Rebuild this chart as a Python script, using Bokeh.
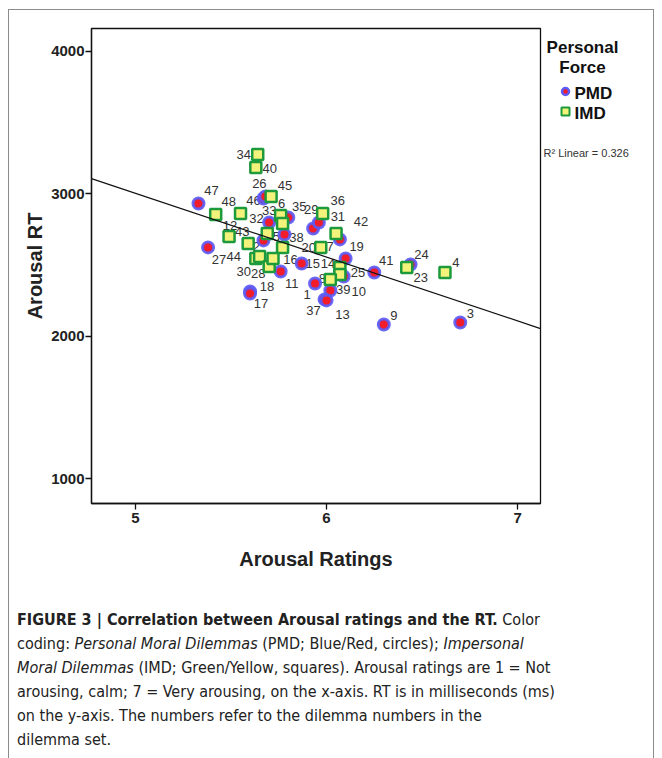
from bokeh.plotting import figure
from bokeh.models import Range1d, FixedTicker, ColumnDataSource, Div
from bokeh.layouts import column, row
from bokeh.embed import file_html
from bokeh.resources import INLINE
from bokeh.core.properties import value

# ---------------- data ----------------
pmd_ids = [47, 27, 46, 26, 33, 35, 29, 31, 42, 19, 2, 38, 11, 15, 41, 1, 39, 10, 37, 13, 18, 17, 9, 3, 24]
pmd_arousal = [5.33, 5.38, 5.67, 5.68, 5.70, 5.80, 5.93, 5.96, 6.07, 6.10, 5.67, 5.78, 5.76, 5.87, 6.25,
               5.94, 6.02, 6.09, 5.99, 6.00, 5.60, 5.60, 6.30, 6.70, 6.44]
pmd_rt = [2933, 2625, 2968, 2982, 2800, 2835, 2758, 2800, 2681, 2547, 2674, 2716, 2456, 2512, 2449,
          2372, 2323, 2421, 2260, 2253, 2316, 2302, 2084, 2098, 2505]

imd_ids = [34, 40, 45, 48, 32, 6, 22, 36, 12, 43, 5, 16, 20, 7, 44, 30, 28, 21, 14, 25, 8, 23, 4]
imd_arousal = [5.64, 5.63, 5.71, 5.42, 5.55, 5.76, 5.77, 5.98, 5.49, 5.59, 5.69, 5.77, 5.97, 6.05, 5.63,
               5.65, 5.70, 5.72, 6.07, 6.07, 6.02, 6.42, 6.62]
imd_rt = [3277, 3186, 2982, 2856, 2863, 2849, 2793, 2863, 2702, 2653, 2723, 2625, 2625, 2723, 2547,
          2561, 2491, 2547, 2484, 2435, 2400, 2484, 2449]

# labels shown next to the points (None = hidden under other marks)
pmd_labels = [str(i) for i in pmd_ids]
imd_labels = [None if i in (21, 22) else str(i) for i in imd_ids]

# fit line: RT = intercept + slope * arousal
fit_intercept = 5245.0
fit_slope = -448.0
r2_text = "R\u00b2 Linear = 0.326"

legend_title = ["Personal", "Force"]
legend_names = ["PMD", "IMD"]

x_ticks = [5, 6, 7]
y_ticks = [1000, 2000, 3000, 4000]

# ---------------- layout (pixel placement of the label texts) ----------------
pmd_off = [(13, -13), (11, 12), (-10, 2), (-6, -13), (0, -12), (11, -11), (-2, -19), (19, -6), (21, -18),
           (11, -12), (-7, 6), (12, 3), (11, 12), (11, 0), (12, -12), (-8, 11), (13, -1), (15, 15),
           (-11, 11), (16, 14), (17, -5), (11, 10), (10, -9), (10, -9), (11, -10)]
imd_off = [(-14, 0), (14, 1), (14, -11), (13, -13), (16, 5), (1, -12), (0, 0), (15, -13), (1, -11),
           (-6, -12), (9, 3), (8, 12), (-12, 0), (-6, 13), (-22, -2), (-16, 15), (-11, 7), (0, 0),
           (-12, -4), (18, -2), (-8, -1), (14, 10), (11, -10)]

X_LO, X_HI = 4.77, 7.12
Y_LO, Y_HI = 828.0, 4161.0
FR_L, FR_R, FR_T, FR_B = 91, 540, 28, 503     # plot frame in page pixels
ORG_X, ORG_Y = 9, 10                          # page position of the main canvas
TOTAL_W, FIG_H = 644, 586
MAIN_W = FR_R - ORG_X + 2
SIDE_W = TOTAL_W - MAIN_W
B_TOP = FR_T - ORG_Y
B_BOT = FIG_H - (FR_B - ORG_Y)

FONT = value("Liberation Sans")
INK = "#111111"

p = figure(width=MAIN_W, height=FIG_H, x_range=Range1d(X_LO, X_HI), y_range=Range1d(Y_LO, Y_HI),
           output_backend="svg", toolbar_location=None,
           min_border_left=FR_L - ORG_X, min_border_right=MAIN_W - (FR_R - ORG_X),
           min_border_top=B_TOP, min_border_bottom=B_BOT)
p.outline_line_color = INK
p.outline_line_width = 1.3
p.grid.visible = False
p.background_fill_color = "white"
p.border_fill_color = "white"

for ax in (p.xaxis, p.yaxis):
    ax.major_tick_in = 0
    ax.major_tick_out = 6
    ax.minor_tick_in = 0
    ax.minor_tick_out = 0
    ax.axis_line_color = INK
    ax.axis_line_width = 1.3
    ax.major_tick_line_color = INK
    ax.major_tick_line_width = 1.3
    ax.major_label_text_font = "Liberation Sans"
    ax.major_label_text_font_style = "bold"
    ax.major_label_text_font_size = "15px"
    ax.major_label_text_color = "#222222"
    ax.axis_label_text_font = "Liberation Sans"
    ax.axis_label_text_font_style = "bold"
    ax.axis_label_text_font_size = "20px"
    ax.axis_label_text_color = "#222222"

p.xaxis.ticker = FixedTicker(ticks=x_ticks)
p.yaxis.ticker = FixedTicker(ticks=y_ticks)
p.xaxis.axis_label = "Arousal Ratings"
p.yaxis.axis_label = "Arousal RT"
p.xaxis.major_label_standoff = 3
p.yaxis.major_label_standoff = 1
p.xaxis.axis_label_standoff = 22
p.yaxis.axis_label_standoff = 2

# point labels
lab_src = ColumnDataSource(dict(
    x=pmd_arousal + imd_arousal,
    y=pmd_rt + imd_rt,
    t=[l if l else "" for l in pmd_labels + imd_labels],
    dx=[o[0] for o in pmd_off + imd_off],
    dy=[o[1] for o in pmd_off + imd_off],
))
p.text(x="x", y="y", text="t", x_offset="dx", y_offset="dy", source=lab_src,
       text_align="center", text_baseline="middle", text_font=FONT,
       text_font_size="13px", text_color="#333333")

CIRC_FILL, CIRC_LINE = "#f21c2a", "#5b5bf7"
SQ_FILL, SQ_LINE = "#f3f27a", "#1c9a3c"

p.scatter(x=pmd_arousal, y=pmd_rt, marker="circle", size=11, fill_color=CIRC_FILL,
          line_color=CIRC_LINE, line_width=3, line_alpha=0.9)
p.scatter(x=imd_arousal, y=imd_rt, marker="square", size=11, fill_color=SQ_FILL,
          line_color=SQ_LINE, line_width=2.5)

# linear fit
fx = [X_LO, X_HI]
p.line(x=fx, y=[fit_intercept + fit_slope * v for v in fx], line_color=INK, line_width=1.2)

# legend panel: a small plot whose coordinates are page pixels (its frame is
# aligned with the main plot's frame by the row layout)
q = figure(width=SIDE_W, height=FIG_H, x_range=Range1d(ORG_X + MAIN_W, ORG_X + TOTAL_W),
           y_range=Range1d(FR_B, FR_T), x_axis_type=None, y_axis_type=None,
           output_backend="svg", toolbar_location=None,
           min_border_left=0, min_border_right=0, min_border_top=B_TOP, min_border_bottom=B_BOT)
q.outline_line_color = None
q.grid.visible = False
q.background_fill_color = "white"
q.border_fill_color = "white"

q.text(x=[582, 582], y=[47, 67], text=legend_title,
       text_align="center", text_baseline="middle", text_font=FONT, text_font_style="bold",
       text_font_size="17px", text_color=INK)
q.scatter(x=[565], y=[91], marker="circle", size=7, fill_color=CIRC_FILL,
          line_color=CIRC_LINE, line_width=2.5)
q.scatter(x=[565], y=[111], marker="square", size=8, fill_color=SQ_FILL,
          line_color=SQ_LINE, line_width=2)
q.text(x=[574, 574], y=[93, 113], text=legend_names,
       text_align="left", text_baseline="middle", text_font=FONT, text_font_style="bold",
       text_font_size="17px", text_color=INK)
q.text(x=[ORG_X + MAIN_W + 1], y=[152], text=[r2_text], text_align="left", text_baseline="middle",
       text_font=FONT, text_font_size="11px", text_color="#333333")

BORDER = "#8c8c8c"
top_bar = Div(text="", width=TOTAL_W + 2, height=1, margin=0, styles={"background-color": BORDER})
left_bar = Div(text="", width=1, height=FIG_H, margin=0, styles={"background-color": BORDER})
right_bar = Div(text="", width=1, height=FIG_H, margin=0, styles={"background-color": BORDER})

CAP_TOP = ORG_Y + FIG_H
CAP_H = 758 - CAP_TOP
LINE_H = 24
caption_html = (
    '<div style="box-sizing:border-box;width:' + str(TOTAL_W + 2) + 'px;height:' + str(CAP_H) + 'px;'
    'overflow:hidden;border-left:1px solid ' + BORDER + ';border-right:1px solid ' + BORDER + ';'
    'padding:' + str(620 - LINE_H // 2 - CAP_TOP) + 'px 0 0 8px;'
    'font-family:\'DejaVu Sans Condensed\',\'Liberation Sans Narrow\',sans-serif;'
    'font-size:16px;line-height:' + str(LINE_H) + 'px;color:#222;white-space:nowrap;">'
    '<b>FIGURE 3 | Correlation between Arousal ratings and the RT.</b> Color<br>'
    'coding: <i>Personal Moral Dilemmas</i> (PMD; Blue/Red, circles); <i>Impersonal</i><br>'
    '<i>Moral Dilemmas</i> (IMD; Green/Yellow, squares). Arousal ratings are 1 = Not<br>'
    'arousing, calm; 7 = Very arousing, on the x-axis. RT is in milliseconds (ms)<br>'
    'on the y-axis. The numbers refer to the dilemma numbers in the<br>'
    'dilemma set.</div>'
)
caption = Div(text=caption_html, width=TOTAL_W + 2, height=CAP_H, margin=0)

layout = column(top_bar, row(left_bar, p, q, right_bar, margin=0), caption,
                margin=(ORG_Y - 1, 0, 0, ORG_X - 1))

open("out.html", "w").write(file_html(layout, INLINE))
